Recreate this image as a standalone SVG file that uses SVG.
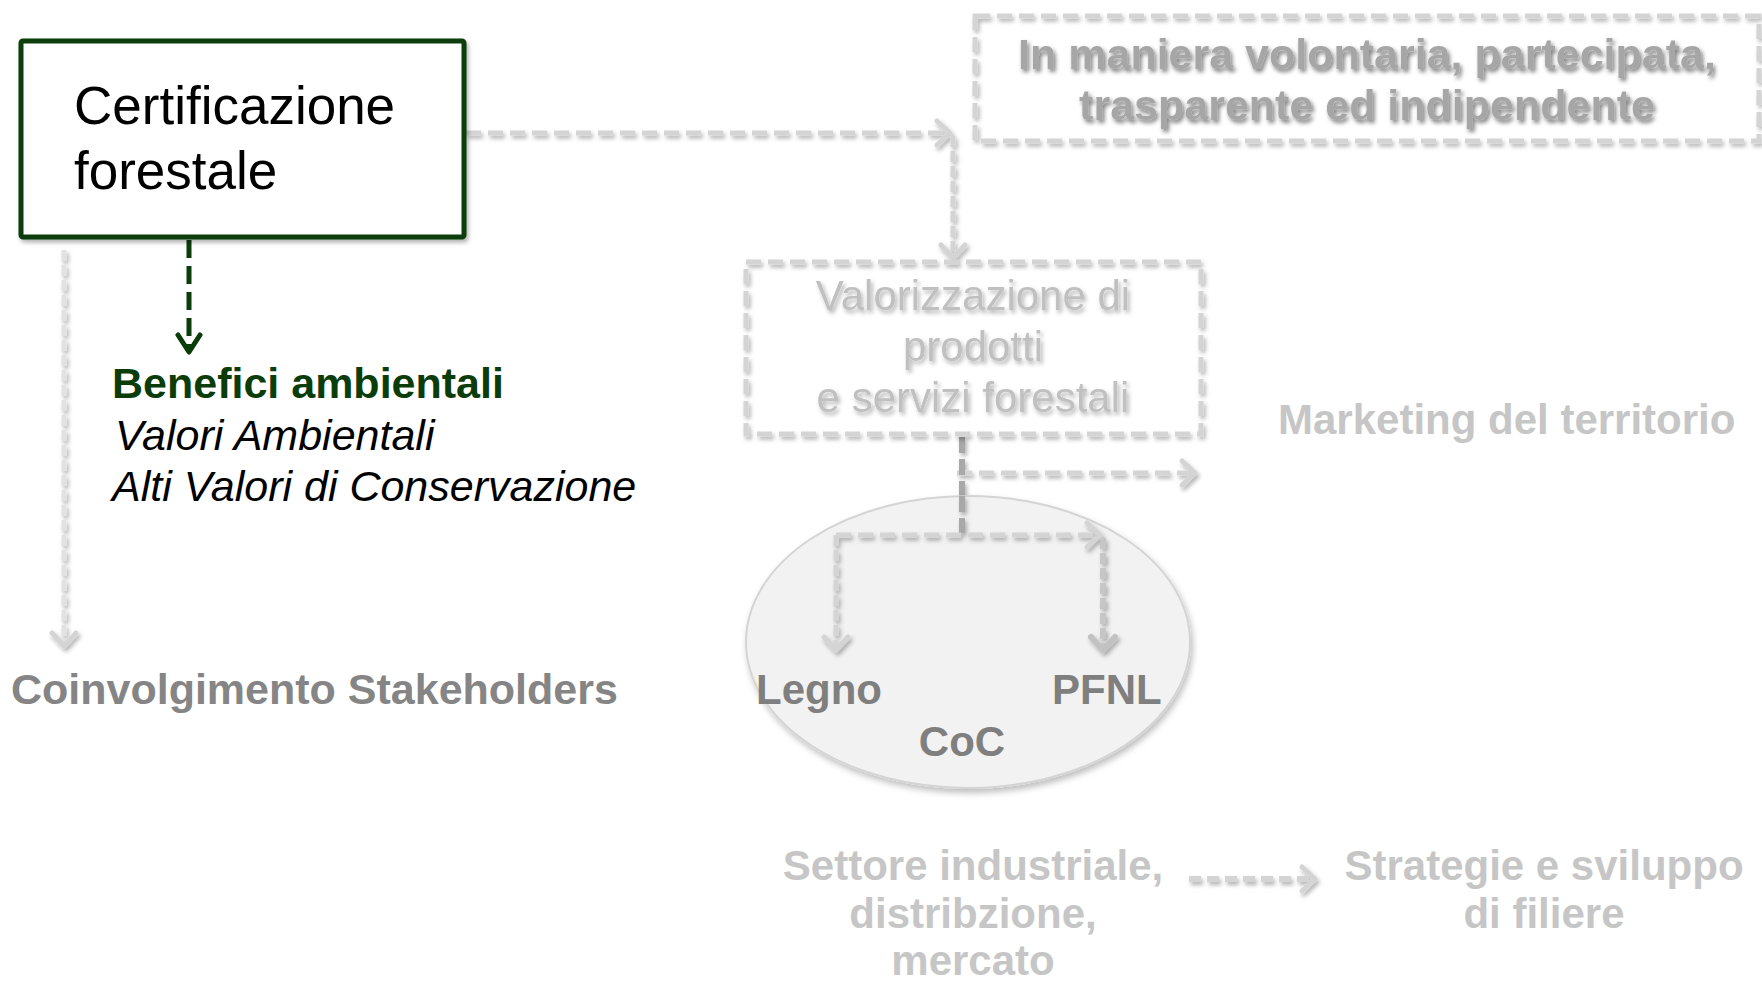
<svg xmlns="http://www.w3.org/2000/svg" width="1762" height="983" viewBox="0 0 1762 983">
<defs>
<filter id="sh" x="-20%" y="-20%" width="140%" height="140%">
<feDropShadow dx="2" dy="3" stdDeviation="2" flood-color="#000" flood-opacity="0.3"/>
</filter>
<filter id="tsh" x="-10%" y="-30%" width="120%" height="160%">
<feDropShadow dx="2" dy="3" stdDeviation="2" flood-color="#000" flood-opacity="0.5"/>
</filter>
<filter id="esh" x="-10%" y="-10%" width="120%" height="125%">
<feDropShadow dx="2" dy="4" stdDeviation="3" flood-color="#000" flood-opacity="0.25"/>
</filter>
<marker id="ah" viewBox="0 0 14 24" refX="13" refY="12" markerWidth="14" markerHeight="24" markerUnits="userSpaceOnUse" orient="auto" overflow="visible">
<path d="M0,0 L13,12 L0,24" fill="none" stroke="#d4d4d4" stroke-width="5" stroke-linejoin="round" stroke-linecap="round"/>
</marker>
<marker id="ahd" viewBox="0 0 14 24" refX="13" refY="12" markerWidth="14" markerHeight="24" markerUnits="userSpaceOnUse" orient="auto" overflow="visible">
<path d="M0,0 L13,12 L0,24" fill="none" stroke="#c2c2c2" stroke-width="6" stroke-linejoin="round" stroke-linecap="round"/>
</marker>
<marker id="agr" viewBox="0 0 18 24" refX="17" refY="12" markerWidth="18" markerHeight="24" markerUnits="userSpaceOnUse" orient="auto" overflow="visible">
<path d="M0,1 L17,12 L0,23" fill="none" stroke="#0b3d0b" stroke-width="5" stroke-linejoin="round" stroke-linecap="round"/>
</marker>
</defs>
<style>
.t{font-family:"Liberation Sans",Arial,sans-serif;}
.b{font-weight:bold;}
.dash{fill:none;stroke:#d4d4d4;stroke-width:5;stroke-dasharray:15 7;}
.dashv{fill:none;stroke:#d4d4d4;stroke-width:5;stroke-dasharray:11 4;}
</style>
<rect width="1762" height="983" fill="#ffffff"/>

<g id="connectors">
<g filter="url(#sh)">
<line x1="466" y1="133" x2="950" y2="133" class="dash" marker-end="url(#ah)"/>
<line x1="953" y1="136" x2="953" y2="258" class="dashv" marker-end="url(#ah)"/>
<line x1="64" y1="250" x2="64" y2="646" class="dashv" style="stroke:#e2e2e2" marker-end="url(#ah)"/>
<line x1="957" y1="473" x2="1195" y2="473" class="dash" marker-end="url(#ah)"/>
<line x1="962" y1="437" x2="962" y2="496" style="fill:none;stroke:#a8a8a8;stroke-width:6;stroke-dasharray:16 6"/>
<line x1="1189" y1="879" x2="1315" y2="879" style="fill:none;stroke:#d4d4d4;stroke-width:6;stroke-dasharray:12 6" marker-end="url(#ah)"/>
</g>
<line x1="189" y1="240" x2="189" y2="352" style="fill:none;stroke:#0b3d0b;stroke-width:5;stroke-dasharray:18 8" marker-end="url(#agr)"/>
</g>

<g id="main-box">
<rect x="21" y="41" width="443" height="196" fill="#ffffff" stroke="#0b3d0b" stroke-width="5" rx="2" filter="url(#sh)"/>
<text class="t" x="74" y="124" font-size="53" fill="#000000">Certificazione</text>
<text class="t" x="74" y="189" font-size="53" fill="#000000">forestale</text>
</g>

<g id="top-box">
<rect x="975" y="16" width="784" height="125" fill="none" stroke="#d4d4d4" stroke-width="5" stroke-dasharray="15 7" filter="url(#sh)"/>
<g filter="url(#tsh)">
<text class="t b" x="1367" y="69" font-size="43" fill="#a6a6a6" text-anchor="middle">In maniera volontaria, partecipata,</text>
<text class="t b" x="1367" y="120" font-size="43" fill="#a6a6a6" text-anchor="middle">trasparente ed indipendente</text>
</g>
</g>

<g id="valorizzazione">
<rect x="746" y="262" width="455" height="172" fill="none" stroke="#d4d4d4" stroke-width="5" stroke-dasharray="15 7" filter="url(#sh)"/>
<g filter="url(#sh)">
<text class="t" x="973" y="310" font-size="42" fill="#c0c0c0" text-anchor="middle">Valorizzazione di</text>
<text class="t" x="973" y="361" font-size="42" fill="#c0c0c0" text-anchor="middle">prodotti</text>
<text class="t" x="973" y="412" font-size="42" fill="#c0c0c0" text-anchor="middle">e servizi forestali</text>
</g>
</g>

<g id="benefici">
<text class="t b" x="112" y="398" font-size="43" fill="#0b3d0b">Benefici ambientali</text>
<text class="t" x="115" y="450" font-size="43" font-style="italic" fill="#000000">Valori Ambientali</text>
<text class="t" x="112" y="501" font-size="43" font-style="italic" fill="#000000">Alti Valori di Conservazione</text>
</g>

<g id="stakeholders">
<text class="t b" x="11" y="704" font-size="43" fill="#858585">Coinvolgimento Stakeholders</text>
</g>

<g id="marketing">
<text class="t b" x="1278" y="434" font-size="42" fill="#c6c6c6">Marketing del territorio</text>
</g>

<g id="coc">
<ellipse cx="968" cy="642" rx="222" ry="146" fill="#f2f2f2" stroke="#d4d4d4" stroke-width="2" filter="url(#esh)"/>
<text class="t b" x="756" y="704" font-size="42" fill="#7f7f7f">Legno</text>
<text class="t b" x="1052" y="704" font-size="42" fill="#7f7f7f">PFNL</text>
<text class="t b" x="962" y="756" font-size="42" fill="#7f7f7f" text-anchor="middle">CoC</text>
</g>

<g id="coc-connectors" filter="url(#sh)">
<line x1="962" y1="496" x2="962" y2="533" style="fill:none;stroke:#a8a8a8;stroke-width:6;stroke-dasharray:16 6"/>
<line x1="836" y1="535" x2="1100" y2="535" class="dash" marker-end="url(#ah)"/>
<polyline points="836,535 836,650" class="dashv" marker-end="url(#ah)"/>
<polyline points="1103,538 1103,650" class="dashv" style="stroke:#c6c6c6;stroke-width:6" marker-end="url(#ahd)"/>
</g>

<g id="settore">
<text class="t b" x="973" y="880" font-size="42" fill="#c6c6c6" text-anchor="middle">Settore industriale,</text>
<text class="t b" x="973" y="928" font-size="42" fill="#c6c6c6" text-anchor="middle">distribzione,</text>
<text class="t b" x="973" y="975" font-size="42" fill="#c6c6c6" text-anchor="middle">mercato</text>
</g>

<g id="strategie">
<text class="t b" x="1544" y="880" font-size="42" fill="#c6c6c6" text-anchor="middle">Strategie e sviluppo</text>
<text class="t b" x="1544" y="928" font-size="42" fill="#c6c6c6" text-anchor="middle">di filiere</text>
</g>
</svg>
